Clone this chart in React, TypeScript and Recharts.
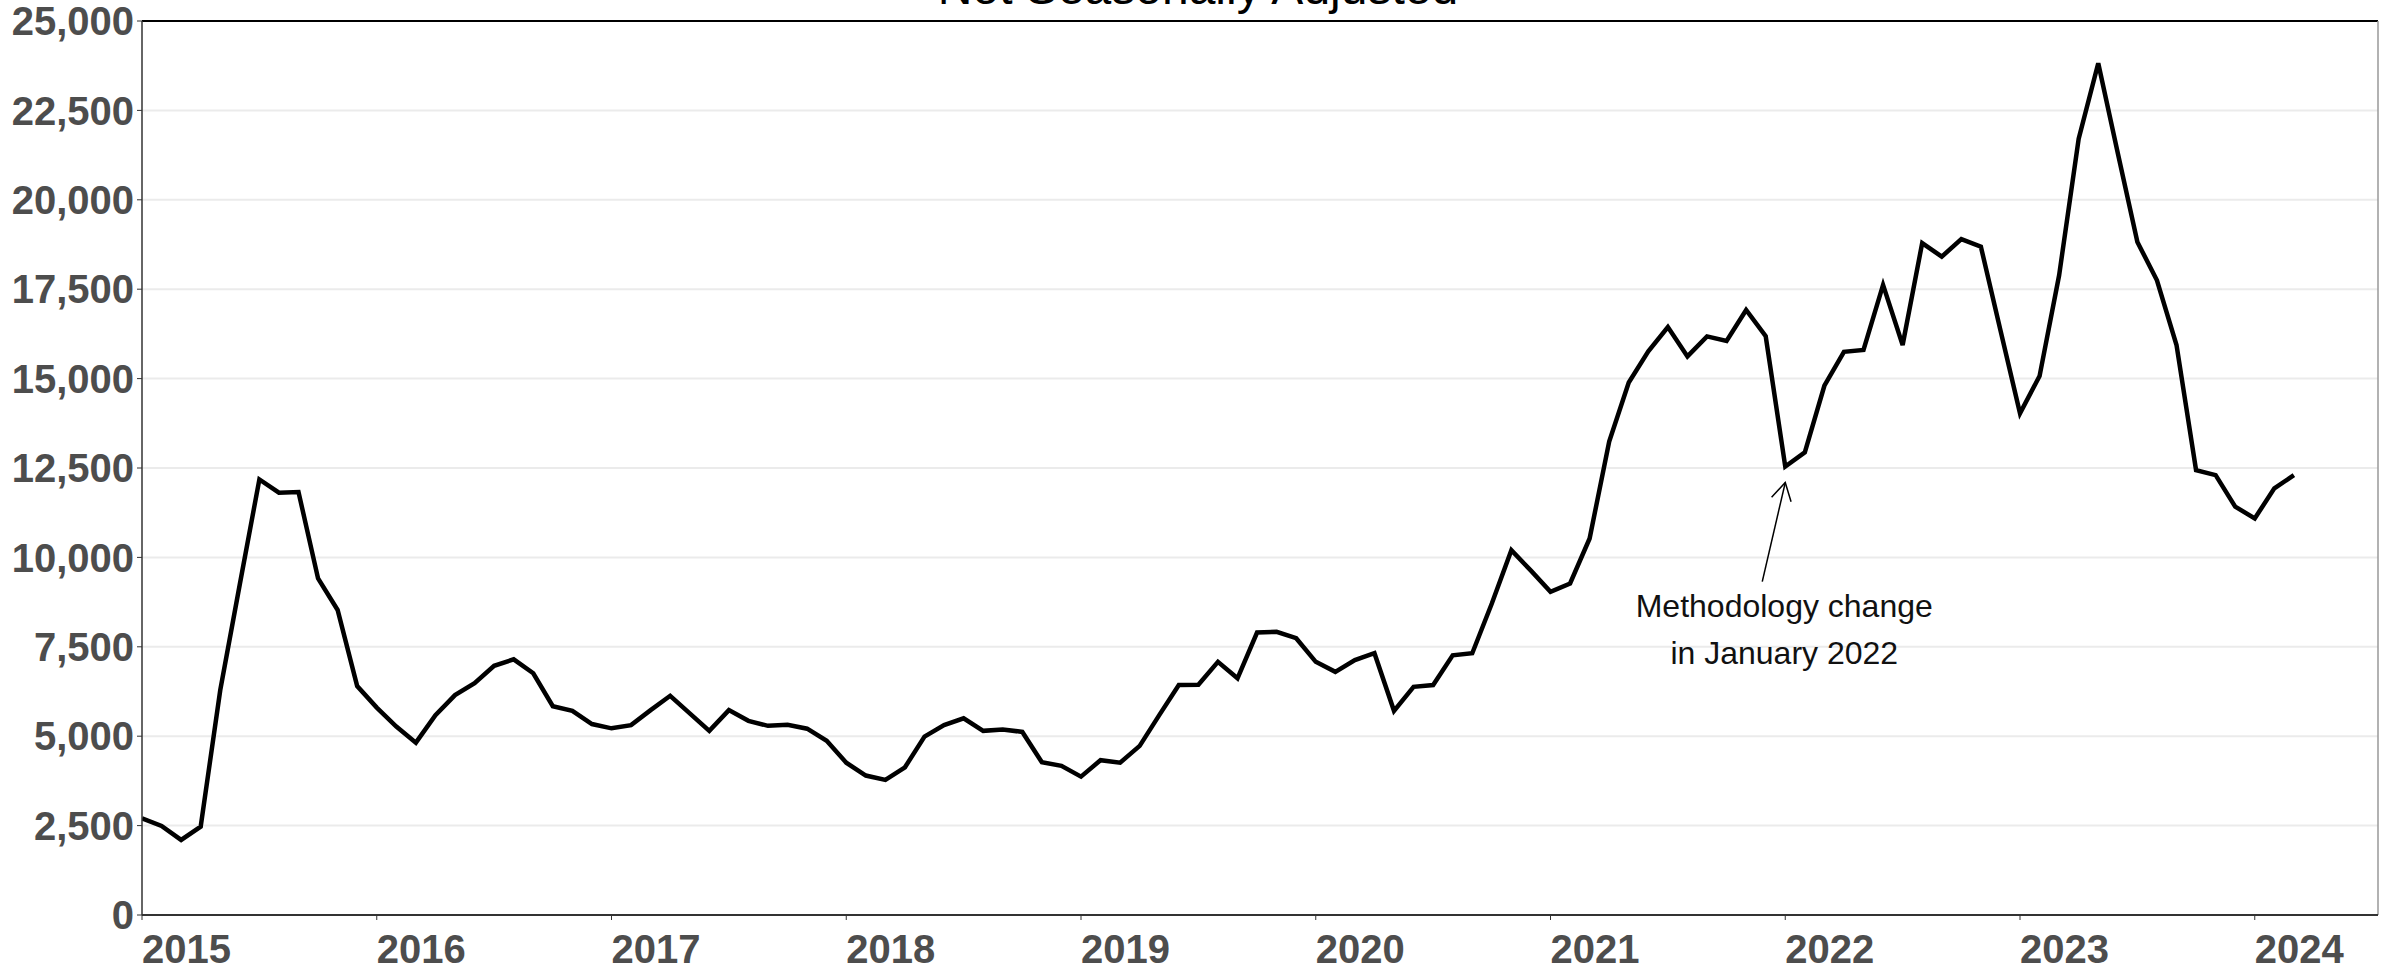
import React from 'react';
import { LineChart, Line, XAxis, YAxis, CartesianGrid, ReferenceLine, ReferenceDot, Customized } from 'recharts';

// --- Data: monthly values, Jan 2015 .. Mar 2024 ---
const yearLabels = ['2015', '2016', '2017', '2018', '2019', '2020', '2021', '2022', '2023', '2024'];
const yTicks = [0, 2500, 5000, 7500, 10000, 12500, 15000, 17500, 20000, 22500, 25000];

const values2015 = [2700, 2490, 2100, 2470, 6290, 9250, 12180, 11810, 11830, 9410, 8530, 6400];
const values2016 = [5800, 5270, 4820, 5590, 6150, 6480, 6970, 7150, 6760, 5840, 5710, 5340];
const values2017 = [5220, 5310, 5730, 6130, 5640, 5150, 5730, 5430, 5290, 5320, 5210, 4870];
const values2018 = [4260, 3900, 3780, 4130, 4990, 5310, 5500, 5150, 5190, 5120, 4270, 4170];
const values2019 = [3870, 4330, 4260, 4730, 5590, 6430, 6440, 7080, 6620, 7900, 7920, 7740];
const values2020 = [7080, 6800, 7130, 7320, 5710, 6380, 6430, 7260, 7320, 8710, 10200, 9630];
const values2021 = [9040, 9270, 10530, 13240, 14890, 15760, 16440, 15620, 16180, 16050, 16920, 16190];
const values2022 = [12540, 12940, 14800, 15750, 15800, 17620, 15940, 18790, 18410, 18900, 18690, 16350];
const values2023 = [14030, 15070, 17890, 21710, 23820, 21300, 18820, 17750, 15940, 12440, 12300, 11420];
const values2024 = [11090, 11930, 12300];

const series = [
  ...values2015, ...values2016, ...values2017, ...values2018, ...values2019,
  ...values2020, ...values2021, ...values2022, ...values2023, ...values2024,
];

const annotationLines = ['Methodology change', 'in January 2022'];
const ANNOTATION_MONTH = 84; // Jan 2022
const X_MAX = 114.3; // months shown on the axis (plot runs a bit past Mar 2024)

const chartData = series.map((value, month) => ({ month, value }));

const FONT = '"Liberation Sans", Arial, Helvetica, sans-serif';
const LABEL_GREY = '#4d4d4d';

const YearTick = ({ x, y, payload }: any) => (
  <text x={x} y={y} dy="0.71em" textAnchor="start" fill={LABEL_GREY} fontSize={40} fontWeight={700} fontFamily={FONT}>
    {yearLabels[Math.round(payload.value / 12)]}
  </text>
);

// arrow + two-line note, placed relative to the annotated point
const Annotation = ({ cx, cy }: any) => {
  if (cx == null || cy == null) return null;
  const tipX = cx;
  const tipY = cy + 16;
  const tailX = cx - 23;
  const tailY = cy + 115;
  const len = Math.hypot(tailX - tipX, tailY - tipY);
  const ux = (tailX - tipX) / len;
  const uy = (tailY - tipY) / len;
  const a = Math.PI / 6;
  const head = 20;
  const r1x = ux * Math.cos(a) - uy * Math.sin(a);
  const r1y = ux * Math.sin(a) + uy * Math.cos(a);
  const r2x = ux * Math.cos(a) + uy * Math.sin(a);
  const r2y = -ux * Math.sin(a) + uy * Math.cos(a);
  return (
    <g>
      <line x1={tailX} y1={tailY} x2={tipX} y2={tipY} stroke="#000" strokeWidth={1.5} />
      <polyline
        points={`${tipX + r1x * head},${tipY + r1y * head} ${tipX},${tipY} ${tipX + r2x * head},${tipY + r2y * head}`}
        fill="none"
        stroke="#000"
        strokeWidth={1.5}
      />
      {annotationLines.map((line, i) => (
        <text key={line} x={cx - 1} y={cy + 150 + i * 47} textAnchor="middle" fontSize={32} fill="#111" fontFamily={FONT}>
          {line}
        </text>
      ))}
    </g>
  );
};

const Title = () => (
  <text x={1198} y={4} textAnchor="middle" fontSize={48} fill="#000" fontFamily={FONT}>
    Not Seasonally Adjusted
  </text>
);

export default function App() {
  return (
    <div style={{ position: 'absolute', left: 0, top: 0, width: 2397, height: 973, background: '#fff' }}>
      <LineChart
        width={2397}
        height={973}
        data={chartData}
        margin={{ top: 21, right: 19, left: 0, bottom: 0 }}
        style={{ fontFamily: FONT }}
      >
        <CartesianGrid vertical={false} stroke="#ebebeb" strokeWidth={2} />
        <XAxis
          type="number"
          dataKey="month"
          domain={[0, X_MAX]}
          ticks={yearLabels.map((_, i) => i * 12)}
          interval={0}
          height={58}
          tickSize={5}
          tickMargin={15}
          axisLine={{ stroke: '#333', strokeWidth: 2 }}
          tickLine={{ stroke: '#333' }}
          tick={<YearTick />}
          allowDataOverflow
        />
        <YAxis
          type="number"
          domain={[0, 25000]}
          ticks={yTicks}
          interval={0}
          width={142}
          tickSize={5}
          tickMargin={3}
          axisLine={{ stroke: '#333', strokeWidth: 1.5 }}
          tickLine={{ stroke: '#333' }}
          tick={{ fill: LABEL_GREY, fontSize: 40, fontWeight: 700, fontFamily: FONT }}
          tickFormatter={(v: number) => v.toLocaleString('en-US')}
        />
        <ReferenceLine y={25000} stroke="#000" strokeWidth={2} />
        <ReferenceLine x={X_MAX} stroke="#999" strokeWidth={1.5} />
        <Line
          type="linear"
          dataKey="value"
          stroke="#000"
          strokeWidth={4.5}
          dot={false}
          activeDot={false}
          isAnimationActive={false}
        />
        <ReferenceDot x={ANNOTATION_MONTH} y={series[ANNOTATION_MONTH]} r={0} shape={<Annotation />} />
        <Customized component={Title} />
      </LineChart>
    </div>
  );
}
